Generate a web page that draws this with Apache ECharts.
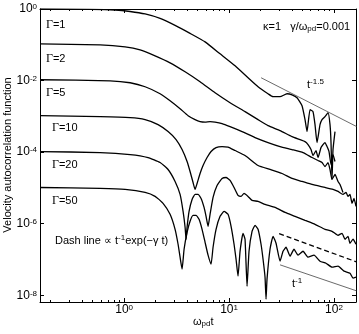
<!DOCTYPE html>
<html>
<head>
<meta charset="utf-8">
<title>VACF</title>
<script src="https://cdn.jsdelivr.net/npm/echarts@6/dist/echarts.min.js"></script>
</head>
<body style="margin:0">
<div id="main" style="width:359px;height:334px;"></div>
<script>
// curves: [omega_pd t, VACF]
var gamma1 = [[0.158,1],[0.4745,0.981],[0.821,0.938],[1.141,0.852],[1.585,0.726],[2.202,0.544],[3.06,0.347],[4.252,0.2077],[5.908,0.1204],[8.21,0.0558],[11.41,0.02584],[15.17,0.01197],[18.89,0.00672],[23.51,0.00429],[26.24,0.00354],[30.6,0.00354],[35.68,0.00429],[39.81,0.0040],[44.42,0.00332],[49.58,0.001986],[52.94,0.000809],[55.34,0.000375],[59.09,0.001537],[63.1,0.001352],[65.92,0.000587],[68.87,0.000185],[73.56,0.000587],[76.85,0.000809],[82.08,0.00098],[87.67,0.001268],[91.61,0.000587],[93.63,0.000185],[95.72,1.73e-5],[97.83,0.000118],[102.2,0.000375]];
var gamma2 = [[0.158,0.1059],[0.591,0.0994],[1.022,0.0874],[1.42,0.0721],[1.973,0.0491],[2.742,0.0313],[3.811,0.01758],[5.294,0.00926],[7.356,0.00457],[10.22,0.002407],[14.2,0.001352],[18.89,0.000809],[23.51,0.000551],[30.6,0.0004],[39.81,0.000272],[47.46,0.000224],[52.94,0.000197],[56.56,0.000163],[60.4,0.000118],[63.1,8.04e-5],[67.38,0.000111],[70.4,7.07e-5],[75.18,0.000134],[78.56,0.000163],[82.08,0.000185],[85.77,0.000143],[89.62,0.000104],[93.63,4.52e-5],[97.83,8.57e-5],[102.2,5.47e-5]];
var gamma5 = [[0.158,0.01053],[0.736,0.00987],[1.141,0.00869],[1.585,0.00672],[2.202,0.00429],[2.742,0.002737],[3.415,0.001639],[4.07,0.001046],[4.744,0.000809],[5.294,0.000712],[5.908,0.00069],[6.592,0.000712],[7.356,0.00069],[8.577,0.000626],[10.22,0.000516],[13.3,0.000375],[17.69,0.000255],[23.51,0.000185],[30.6,0.000143],[39.81,0.000118],[50.68,9.75e-5],[61.73,7.07e-5],[70.4,5.83e-5],[76.85,5.13e-5],[82.08,3.97e-5],[87.67,5.13e-5],[91.61,3.28e-5],[95.72,1.73e-5],[102.2,2.38e-5],[109.2,1.52e-5],[114.1,1.25e-5],[121.8,7.49e-6]];
var gamma10 = [[0.158,0.001046],[0.591,0.00098],[1.141,0.00092],[1.585,0.000809],[2.107,0.000587],[2.624,0.000375],[3.128,0.000224],[3.568,0.000118],[3.981,5.47e-5],[4.252,2.88e-5],[4.54,1.42e-5],[4.744,9.08e-6],[4.957,1.33e-5],[5.294,2.53e-5],[5.654,4.23e-5],[6.173,7.07e-5],[6.739,0.000104],[7.518,0.000134],[8.577,0.000143],[9.783,0.000139],[11.41,0.000111],[14.2,8.04e-5],[18.89,4.23e-5],[24.57,3.28e-5],[31.98,2.53e-5],[39.81,1.84e-5],[49.58,1.52e-5],[61.73,1.25e-5],[82.08,1.03e-5],[97.83,9.08e-6],[109.2,7.99e-6],[121.8,6.59e-6],[130.1,7.49e-6],[135.9,5.8e-6],[142,6.59e-6],[148.4,3.7e-6],[155.1,5.1e-6],[162,3.05e-6]];
var gamma20 = [[0.158,0.000104],[0.591,9.75e-5],[1.141,8.57e-5],[1.693,7.07e-5],[2.202,5.13e-5],[2.624,3.28e-5],[3.06,1.52e-5],[3.415,6.59e-6],[3.647,2.21e-6],[3.811,7.96e-7],[3.895,3.68e-7],[3.981,7.96e-7],[4.159,2.21e-6],[4.442,4.78e-6],[4.744,6.59e-6],[5.067,6.59e-6],[5.412,5.1e-6],[5.78,2.86e-6],[6.039,1.61e-6],[6.31,8.46e-7],[6.592,1.83e-6],[7.04,5.44e-6],[7.686,1.17e-5],[8.577,1.84e-5],[9.363,1.96e-5],[10.22,1.62e-5],[11.16,1.03e-5],[12.18,6.18e-6],[13.01,5.8e-6],[13.89,7.03e-6],[15.17,5.8e-6],[16.56,4.49e-6],[18.89,4.21e-6],[22.02,3.47e-6],[27.42,2.86e-6],[34.15,2.08e-6],[42.53,1.61e-6],[52.94,1.24e-6],[65.92,9.62e-7],[82.08,6.98e-7],[95.72,6.14e-7],[109.2,4.75e-7],[119.2,5.4e-7],[127.3,3.68e-7],[135.9,4.46e-7],[142,2.84e-7],[151.7,3.68e-7],[162,2.67e-7]];
var gamma50 = [[0.158,1.03e-5],[0.591,9.68e-6],[1.022,9.08e-6],[1.585,7.49e-6],[1.973,5.8e-6],[2.351,3.7e-6],[2.742,1.83e-6],[3.06,6.98e-7],[3.268,2.67e-7],[3.415,1.16e-7],[3.568,5.37e-8],[3.728,1.94e-7],[3.981,5.76e-7],[4.252,1.17e-6],[4.54,1.71e-6],[4.85,1.71e-6],[5.179,1.33e-6],[5.532,6.98e-7],[5.908,3.03e-7],[6.31,1.32e-7],[6.739,7.4e-8],[7.04,2.2e-7],[7.518,6.98e-7],[8.21,1.61e-6],[8.964,2.21e-6],[9.783,1.83e-6],[10.45,8.46e-7],[11.16,2.67e-7],[11.66,1.02e-7],[12.18,3.42e-8],[12.73,1.7e-7],[13.59,5.4e-7],[14.2,3.68e-7],[14.84,1.8e-8],[15.5,1.7e-7],[16.56,6.14e-7],[17.69,9.02e-7],[18.89,6.98e-7],[20.17,2.67e-7],[21.08,1.02e-7],[22.02,3.21e-8],[22.51,7.84e-9],[23.0,2.83e-8],[24.57,1.94e-7],[26.24,4.46e-7],[28.03,2.84e-7],[30.6,8.97e-8],[32.68,1.7e-7],[34.91,2.2e-7],[38.11,1.24e-7],[41.59,1.94e-7],[45.41,1.32e-7],[50.68,1.7e-7],[56.56,1.16e-7],[64.49,1.32e-7],[73.56,8.97e-8],[83.9,7.88e-8],[95.72,6.1e-8],[109.2,6.51e-8],[124.5,4.72e-8],[142,4.15e-8],[151.7,3.01e-8],[162,3.21e-8]];
// guide lines
var slope15 = [[20.2,0.012],[164,5.2e-4]];
var slope1 = [[30.6,7.1e-8],[164,1.33e-8]];
var dashLine = [[30,5.3e-7],[164,8.6e-8]];

var gammaNames = ['1', '2', '5', '10', '20', '50'];
var xMajor = [1, 10, 100];
var xMinor = [0.2,0.3,0.4,0.5,0.6,0.7,0.8,0.9,2,3,4,5,6,7,8,9,20,30,40,50,60,70,80,90];
var yMajor = [1e-8, 1e-6, 1e-4, 1e-2, 1];

var myChart = echarts.init(document.getElementById('main'));

var supRich = {
    b: { fontSize: 12, lineHeight: 12, padding: [6, 0, 0, 0], verticalAlign: 'bottom' },
    s: { fontSize: 8, lineHeight: 9, verticalAlign: 'top' }
};
function powLabel(v) {
    var e = Math.round(Math.log10(v));
    return '{b|10}{s|' + (e < 0 ? '-' + (-e) : e) + '}';
}

function xAxisCfg(pos, ticks, len, labels, line) {
    return {
        type: 'log', position: pos, min: 0.158, max: 162,
        axisLine: { show: line, lineStyle: { color: '#000', width: 1 } },
        axisTick: { show: true, inside: true, length: len, customValues: ticks, lineStyle: { color: '#000' } },
        axisLabel: labels ? { show: true, customValues: xMajor, formatter: powLabel, margin: 2, color: '#000', fontFamily: 'Liberation Sans', rich: supRich } : { show: false },
        splitLine: { show: false }
    };
}
function yAxisCfg(pos, labels) {
    return {
        type: 'log', position: pos, min: 6.5e-9, max: 1,
        axisLine: { show: true, lineStyle: { color: '#000', width: 1 } },
        axisTick: { show: true, inside: true, length: 4, customValues: yMajor, lineStyle: { color: '#000' } },
        axisLabel: labels ? { show: true, customValues: yMajor, formatter: powLabel, margin: 3, color: '#000', fontFamily: 'Liberation Sans', rich: supRich } : { show: false },
        splitLine: { show: false }
    };
}

var curves = [gamma1, gamma2, gamma5, gamma10, gamma20, gamma50];
var series = curves.map(function (d, i) {
    return {
        name: 'Γ=' + gammaNames[i], type: 'line', data: d, showSymbol: false,
        smooth: 0.15, lineStyle: { color: '#000', width: 1.3 }, silent: true
    };
});
series.push({ type: 'line', data: slope15, showSymbol: false, silent: true, lineStyle: { color: '#444', width: 0.8 } });
series.push({ type: 'line', data: slope1, showSymbol: false, silent: true, lineStyle: { color: '#444', width: 0.8 } });
series.push({ type: 'line', data: dashLine, showSymbol: false, silent: true, lineStyle: { color: '#000', width: 1.3, type: [5, 3] } });

var baseRich = {
    g: { fontFamily: 'Liberation Serif', fontSize: 12 },
    n: { fontSize: 11, lineHeight: 12, padding: [0, 0, 4, 0], verticalAlign: 'top' },
    sb: { fontSize: 8, lineHeight: 9, verticalAlign: 'bottom' },
    b: { fontSize: 11, lineHeight: 12, padding: [5, 0, 0, 0], verticalAlign: 'bottom' },
    s: { fontSize: 8, lineHeight: 9, verticalAlign: 'top' }
};
var gammaY = [25, 59, 93, 128, 165, 201];
var graphics = gammaNames.map(function (g, i) {
    return {
        type: 'text', x: i < 3 ? 46 : 52, y: gammaY[i],
        style: { text: '{g|Γ}=' + g, rich: baseRich, fontSize: 11, fontFamily: 'Liberation Sans', fill: '#000', verticalAlign: 'middle' }
    };
});
graphics.push(
    { type: 'text', x: 8, y: 155, rotation: Math.PI / 2,
      style: { text: 'Velocity autocorrelation function', fontSize: 11, fontFamily: 'Liberation Sans', fill: '#000', align: 'center', verticalAlign: 'middle' } },
    { type: 'text', x: 193, y: 322,
      style: { text: '{n|ω}{sb|pd}{n|t}', rich: baseRich, fontFamily: 'Liberation Sans', fill: '#000', verticalAlign: 'middle' } },
    { type: 'text', x: 263, y: 27,
      style: { text: '{n|κ=1   γ/ω}{sb|pd}{n|=0.001}', rich: baseRich, fontFamily: 'Liberation Sans', fill: '#000', verticalAlign: 'middle' } },
    { type: 'text', x: 307, y: 84,
      style: { text: '{b|t}{s|-1.5}', rich: baseRich, fontFamily: 'Liberation Sans', fill: '#000', verticalAlign: 'middle' } },
    { type: 'text', x: 292, y: 283,
      style: { text: '{b|t}{s|-1}', rich: baseRich, fontFamily: 'Liberation Sans', fill: '#000', verticalAlign: 'middle' } },
    { type: 'text', x: 55, y: 240,
      style: { text: '{b|Dash line ∝ t}{s|-1}{b|exp(−γ t)}', rich: baseRich, fontFamily: 'Liberation Sans', fill: '#000', verticalAlign: 'middle' } }
);

option = {
    animation: false,
    backgroundColor: '#fff',
    grid: { left: 40, right: 3, top: 9, bottom: 32, containLabel: false, outerBoundsMode: 'none' },
    xAxis: [
        xAxisCfg('bottom', xMajor, 4, true, true),
        xAxisCfg('bottom', xMinor, 2, false, false),
        xAxisCfg('top', xMajor, 4, false, true),
        xAxisCfg('top', xMinor, 2, false, false)
    ],
    yAxis: [yAxisCfg('left', true), yAxisCfg('right', false)],
    series: series,
    graphic: graphics
};
myChart.setOption(option);
</script>
</body>
</html>
